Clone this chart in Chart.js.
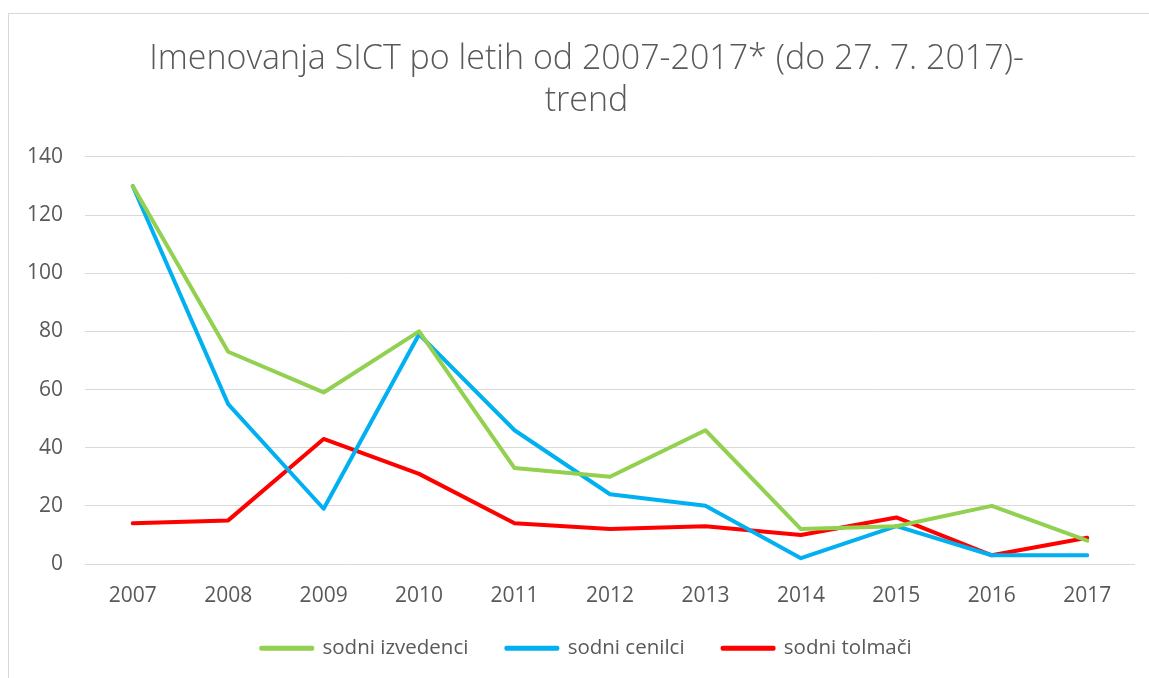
<!DOCTYPE html>
<html>
<head>
<meta charset="utf-8">
<script src="https://cdn.jsdelivr.net/npm/chart.js@4"></script>
<style>
  html, body { margin: 0; padding: 0; background: #ffffff; overflow: hidden; }
  #frame { position: absolute; left: 8px; top: 13px; width: 1200px; height: 720px; border: 1px solid #d9d9d9; box-sizing: border-box; }
  #wrap { position: absolute; left: 0; top: 0; width: 1173px; height: 678px; }
</style>
</head>
<body>
<div id="frame"></div>
<div id="wrap"><canvas id="c" width="1173" height="678"></canvas></div>
<script>
const titleLines = ["Imenovanja SICT po letih od 2007-2017* (do 27. 7. 2017)-", "trend"];
const years = ["2007","2008","2009","2010","2011","2012","2013","2014","2015","2016","2017"];
const seriesNames = ["sodni izvedenci", "sodni cenilci", "sodni tolmači"];
const izvedenci = [130, 73, 59, 80, 33, 30, 46, 12, 13, 20, 8];
const cenilci   = [130, 55, 19, 79, 46, 24, 20, 2, 13, 3, 3];
const tolmaci   = [14, 15, 43, 31, 14, 12, 13, 10, 16, 3, 9];
const seriesColors = ["#92D050", "#00B0F0", "#FF0000"];
const yMin = 0, yMax = 140, yStep = 20;

const FONT = '"Open Sans", sans-serif';
const TXT = '#595959';

const datasets = [izvedenci, cenilci, tolmaci].map((d, i) => ({
  label: seriesNames[i],
  data: d,
  yAxisID: 'y',
  borderColor: seriesColors[i],
  backgroundColor: seriesColors[i],
  borderWidth: 4,
  pointRadius: 0,
  pointHoverRadius: 0,
  tension: 0,
  fill: false,
  borderCapStyle: 'round',
  borderJoinStyle: 'round'
}));

const legendTweak = {
  id: 'legendTweak',
  beforeInit(chart) {
    const lg = chart.legend;
    if (lg) {
      const origFit = lg.fit;
      lg.fit = function () { origFit.call(this); this.height = 60; };
      const origDraw = lg.draw;
      lg.draw = function () {
        const ctx = this.ctx;
        ctx.save();
        ctx.translate(0, -12);
        origDraw.call(this);
        ctx.restore();
      };
    }
  }
};

new Chart(document.getElementById('c'), {
  type: 'line',
  data: { labels: years, datasets },
  plugins: [legendTweak],
  options: {
    responsive: false,
    animation: false,
    events: [],
    layout: { padding: { left: 0, right: 0, top: 39, bottom: 6 } },
    plugins: {
      tooltip: { enabled: false },
      title: {
        display: true,
        text: titleLines,
        color: TXT,
        font: { family: FONT, size: 34, weight: 300, lineHeight: 1.22 },
        padding: { top: 0, bottom: 35 }
      },
      legend: {
        position: 'bottom',
        labels: {
          color: TXT,
          font: { family: FONT, size: 20.5 },
          boxWidth: 51,
          boxHeight: 1,
          padding: 38
        }
      }
    },
    scales: {
      x: {
        offset: true,
        grid: { display: false, drawTicks: false },
        border: { display: false },
        ticks: { color: TXT, font: { family: FONT, size: 21 }, padding: 19, maxRotation: 0 },
        afterFit: (s) => { s.height = 48; }
      },
      y: {
        position: 'left',
        min: yMin, max: yMax,
        grid: { color: '#d9d9d9', lineWidth: 1, drawTicks: false },
        border: { display: false },
        ticks: { stepSize: yStep, color: TXT, font: { family: FONT, size: 21 }, padding: 22 },
        afterFit: (s) => { s.width = 85; }
      },
      yRight: {
        position: 'right',
        min: yMin, max: yMax,
        grid: { display: false, drawTicks: false },
        border: { display: false },
        ticks: { display: false },
        afterFit: (s) => { s.width = 38; }
      }
    }
  }
});
</script>
</body>
</html>
